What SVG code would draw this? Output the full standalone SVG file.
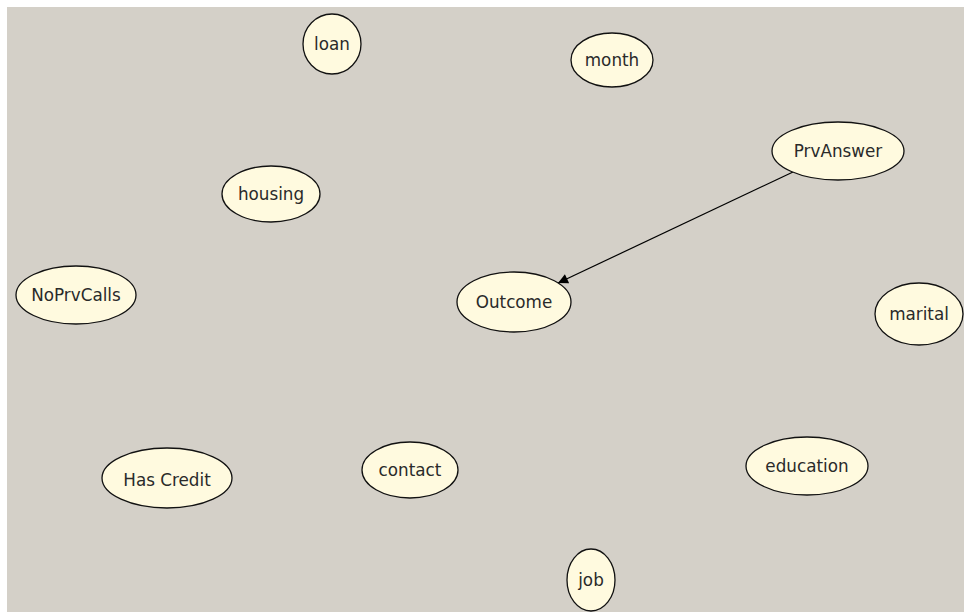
<svg xmlns="http://www.w3.org/2000/svg" width="964" height="612" viewBox="0 0 964 612">
  <style>
    .node ellipse { fill: #fffadf; stroke: #111; stroke-width: 1.3; }
    .node text { font-family: "DejaVu Sans", Verdana, sans-serif; font-size: 16.8px; fill: #2a2a2a; text-anchor: middle; }
    .edge { stroke: #000; stroke-width: 1.2; fill: none; }
  </style>
  <defs>
    <marker id="arrow" viewBox="0 0 10 10" refX="10" refY="5" markerWidth="13" markerHeight="10" markerUnits="userSpaceOnUse" orient="auto">
      <path d="M0,0 L10,5 L0,10 z" fill="#000"/>
    </marker>
  </defs>
  <rect x="0" y="0" width="964" height="612" fill="#ffffff"/>
  <rect x="7" y="7" width="957" height="605" fill="#d4d0c8"/>

  <g id="connectors">
    <line class="edge" x1="793" y1="172" x2="558" y2="283" marker-end="url(#arrow)"/>
  </g>

  <!-- labels sit on a baseline about 6px below each centre -->
  <g id="loan" class="node"><ellipse cx="332" cy="44" rx="29" ry="30"/><text x="332" y="50">loan</text></g>
  <g id="month" class="node"><ellipse cx="612" cy="60" rx="41" ry="27"/><text x="612" y="66">month</text></g>
  <g id="PrvAnswer" class="node"><ellipse cx="838" cy="151" rx="66" ry="29"/><text x="838" y="157">PrvAnswer</text></g>
  <g id="housing" class="node"><ellipse cx="271" cy="194" rx="49" ry="28"/><text x="271" y="200">housing</text></g>
  <g id="NoPrvCalls" class="node"><ellipse cx="76" cy="295" rx="60" ry="29"/><text x="76" y="301">NoPrvCalls</text></g>
  <g id="Outcome" class="node"><ellipse cx="514" cy="302" rx="57" ry="30"/><text x="514" y="308">Outcome</text></g>
  <g id="marital" class="node"><ellipse cx="919" cy="314" rx="44" ry="31"/><text x="919" y="320">marital</text></g>
  <g id="HasCredit" class="node"><ellipse cx="167" cy="478" rx="65" ry="30"/><text x="167" y="486">Has Credit</text></g>
  <g id="contact" class="node"><ellipse cx="410" cy="470" rx="48" ry="28"/><text x="410" y="476">contact</text></g>
  <g id="education" class="node"><ellipse cx="807" cy="466" rx="61" ry="29"/><text x="807" y="472">education</text></g>
  <g id="job" class="node"><ellipse cx="591" cy="580" rx="24" ry="31"/><text x="591" y="586">job</text></g>
</svg>
